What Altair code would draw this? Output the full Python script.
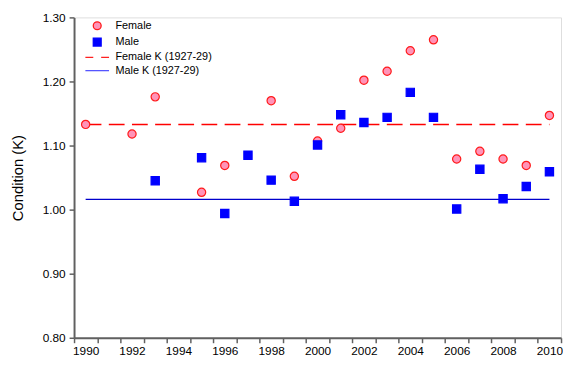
import altair as alt
import pandas as pd

all_years = list(range(1990, 2011))

female_years = [1990, 1992, 1993, 1995, 1996, 1998, 1999, 2000, 2001, 2002,
                2003, 2004, 2005, 2006, 2007, 2008, 2009, 2010]
female_k = [1.133, 1.118, 1.176, 1.027, 1.069, 1.170, 1.052, 1.107, 1.127, 1.202,
            1.216, 1.248, 1.265, 1.079, 1.091, 1.079, 1.069, 1.147]

male_years = [1993, 1995, 1996, 1997, 1998, 1999, 2000, 2001, 2002, 2003,
              2004, 2005, 2006, 2007, 2008, 2009, 2010]
male_k = [1.045, 1.081, 0.994, 1.085, 1.046, 1.013, 1.101, 1.148, 1.136, 1.144,
          1.183, 1.144, 1.001, 1.063, 1.017, 1.036, 1.059]

ref_years = [1990, 2010]
female_ref = 1.133
male_ref = 1.016

series_names = ["Female", "Male", "Female K (1927-29)", "Male K (1927-29)"]

points = pd.DataFrame({
    "year": female_years + male_years,
    "k": female_k + male_k,
    "series": ["Female"] * len(female_years) + ["Male"] * len(male_years),
})
fref = pd.DataFrame({"year": ref_years, "k": [female_ref] * 2})
mref = pd.DataFrame({"year": ref_years, "k": [male_ref] * 2})

x_enc = alt.X(
    "year:O",
    scale=alt.Scale(type="band", domain=all_years, paddingInner=0, paddingOuter=0),
    axis=alt.Axis(
        title=None,
        tickBand="extent",
        labelAngle=0,
        labelExpr="datum.value % 2 == 0 ? datum.label : ''",
        labelFont="Liberation Sans",
        labelFontSize=12,
        labelColor="#000000",
        labelPadding=3,
        tickSize=5,
        tickColor="#606060",
        domainColor="#606060",
        domainWidth=2,
        tickWidth=1.5,
    ),
)
y_enc = alt.Y(
    "k:Q",
    scale=alt.Scale(domain=[0.8, 1.3], nice=False, zero=False),
    axis=alt.Axis(
        title="Condition (K)",
        titleFont="Liberation Sans",
        titleFontSize=15,
        titleFontWeight="normal",
        titleColor="#000000",
        titlePadding=17,
        values=[0.8, 0.9, 1.0, 1.1, 1.2, 1.3],
        format=".2f",
        labelFont="Liberation Sans",
        labelFontSize=12,
        labelColor="#000000",
        labelPadding=4,
        tickSize=5,
        tickColor="#606060",
        domainColor="#606060",
        domainWidth=2,
        tickWidth=1.5,
        grid=False,
    ),
)

legend = alt.Legend(
    title=None,
    orient="none",
    legendX=18,
    legendY=3,
    symbolSize=64,
    symbolStrokeWidth=1.3,
    labelFont="Liberation Sans",
    labelFontSize=11,
    labelColor="#000000",
    labelOffset=13,
    rowPadding=1.5,
    padding=0,
)

pts = alt.Chart(points).mark_point(size=70, opacity=1, strokeWidth=1.2).encode(
    x=x_enc,
    y=y_enc,
    shape=alt.Shape("series:N", scale=alt.Scale(
        domain=series_names,
        range=["circle", "square", "M-3,0H-1M1,0H3", "M-3,0H3"]), legend=legend),
    fill=alt.Fill("series:N", scale=alt.Scale(
        domain=series_names,
        range=["#ff94b8", "#0000ff", "transparent", "transparent"]), legend=legend),
    stroke=alt.Stroke("series:N", scale=alt.Scale(
        domain=series_names,
        range=["#ff1a1a", "#0000ff", "#ff2020", "#5555ff"]), legend=legend),
)

fline = alt.Chart(fref).mark_line(color="#ff0000", strokeWidth=1.5, strokeDash=[16, 7.5]).encode(
    x=x_enc, y=y_enc)
mline = alt.Chart(mref).mark_line(color="#0000cc", strokeWidth=1.5).encode(
    x=x_enc, y=y_enc)

chart = alt.layer(fline, mline, pts).properties(
    width=494,
    height=325,
    autosize=alt.AutoSizeParams(type="none"),
    padding={"left": 67, "top": 7, "right": 2, "bottom": 20},
).configure_view(stroke=None).configure(background="white")

chart.save("out.html", embed_options={"renderer": "svg", "actions": False})
